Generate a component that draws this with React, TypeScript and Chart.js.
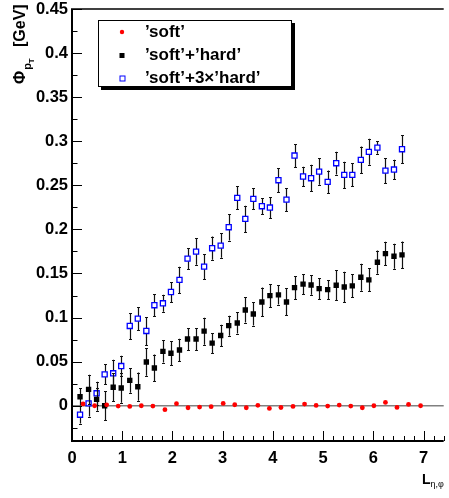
import { useEffect, useRef } from "react";
import { Chart, registerables } from "chart.js";

Chart.register(...registerables);

const FONT = '"Liberation Sans", Arial, Helvetica, sans-serif';

// ---- data ----
const softX = [0.22, 0.45, 0.69, 0.92, 1.15, 1.38, 1.61, 1.85, 2.08, 2.31, 2.54, 2.77, 3.01, 3.24, 3.47, 3.70, 3.93, 4.16, 4.40, 4.63, 4.86, 5.09, 5.32, 5.55, 5.78, 6.01, 6.24, 6.47, 6.70, 6.94];
const softY = [0.002, 0.0, 0.001, -0.0004, -0.0008, 0.0, -0.0004, -0.0045, 0.0023, -0.0023, -0.0015, -0.0011, 0.0026, 0.0011, -0.0023, 0.0005, -0.003, -0.002, -0.0008, 0.0019, 0.0004, -0.0004, 0.0008, -0.0004, -0.0023, 0.0, 0.0038, -0.0019, 0.0015, 0.0];

const hardX = [0.16, 0.33, 0.49, 0.65, 0.82, 0.98, 1.15, 1.31, 1.48, 1.64, 1.81, 1.97, 2.14, 2.30, 2.47, 2.63, 2.79, 2.96, 3.12, 3.29, 3.45, 3.61, 3.78, 3.94, 4.11, 4.27, 4.43, 4.60, 4.76, 4.92, 5.09, 5.26, 5.42, 5.58, 5.75, 5.91, 6.08, 6.24, 6.41, 6.57];
const softHardY = [0.0102, 0.0186, 0.0072, 0.0, 0.0209, 0.0201, 0.0288, 0.0216, 0.0496, 0.0428, 0.0617, 0.0595, 0.0632, 0.0757, 0.0757, 0.0846, 0.071, 0.0797, 0.0908, 0.0939, 0.1086, 0.1041, 0.1177, 0.1249, 0.1257, 0.1177, 0.134, 0.138, 0.137, 0.1328, 0.1317, 0.1366, 0.1347, 0.1359, 0.1457, 0.1427, 0.1628, 0.1725, 0.1696, 0.1711];
const softHardErr = [0.01, 0.0165, 0.013, 0.0163, 0.016, 0.0166, 0.014, 0.016, 0.0155, 0.0153, 0.0127, 0.0136, 0.0127, 0.0125, 0.0125, 0.0153, 0.0112, 0.0121, 0.0113, 0.0121, 0.0142, 0.0132, 0.0163, 0.013, 0.011, 0.0153, 0.013, 0.0112, 0.011, 0.0121, 0.011, 0.017, 0.0174, 0.013, 0.0153, 0.013, 0.0132, 0.0134, 0.0142, 0.0151];
const soft3HardY = [-0.0102, 0.0027, 0.0141, 0.0356, 0.0368, 0.045, 0.0905, 0.0988, 0.0848, 0.114, 0.1162, 0.129, 0.1427, 0.1669, 0.1748, 0.1578, 0.1787, 0.1816, 0.2025, 0.2358, 0.2119, 0.2346, 0.2263, 0.2248, 0.2558, 0.2338, 0.2838, 0.26, 0.2581, 0.2656, 0.2539, 0.2751, 0.2619, 0.2619, 0.2789, 0.288, 0.2928, 0.2667, 0.2679, 0.291];
const soft3HardErr = [0.01, 0.015, 0.013, 0.0115, 0.0155, 0.0117, 0.0148, 0.013, 0.0159, 0.0127, 0.0096, 0.0113, 0.0149, 0.0119, 0.0149, 0.014, 0.0132, 0.0138, 0.0151, 0.013, 0.0149, 0.0119, 0.0093, 0.0119, 0.0134, 0.0129, 0.0129, 0.011, 0.0151, 0.0149, 0.0129, 0.0129, 0.0149, 0.0132, 0.0151, 0.0148, 0.007, 0.0142, 0.0112, 0.016];

const xTickValues = [0, 1, 2, 3, 4, 5, 6, 7];
const xTickLabels = ["0", "1", "2", "3", "4", "5", "6", "7"];
const yTickValues = [0, 0.05, 0.1, 0.15, 0.2, 0.25, 0.3, 0.35, 0.4, 0.45];
const yTickLabels = ["0", "0.05", "0.1", "0.15", "0.2", "0.25", "0.3", "0.35", "0.4", "0.45"];
const legendLabels = ["\u2019soft\u2019", "\u2019soft\u2019+\u2019hard\u2019", "\u2019soft\u2019+3\u00d7\u2019hard\u2019"];

const X_MIN = 0;
const X_MAX = 7.4;
const Y_MIN = -0.04;
const Y_MAX = 0.45;

const errorBarPlugin = {
  id: "errorBars",
  beforeDatasetDraw(chart: any, args: any) {
    const ds = chart.data.datasets[args.index];
    if (!ds.errors) return;
    const { ctx, scales, chartArea } = chart;
    const xs = scales.x;
    const ys = scales.y;
    ctx.save();
    ctx.beginPath();
    ctx.rect(chartArea.left, chartArea.top, chartArea.right - chartArea.left, chartArea.bottom - chartArea.top);
    ctx.clip();
    ctx.strokeStyle = "#111";
    ctx.lineWidth = 1.2;
    ds.data.forEach((p: any, i: number) => {
      const e = ds.errors[i];
      const px = Math.round(xs.getPixelForValue(p.x)) + 0.5;
      const yt = ys.getPixelForValue(p.y + e);
      const yb = ys.getPixelForValue(p.y - e);
      ctx.beginPath();
      ctx.moveTo(px, yt);
      ctx.lineTo(px, yb);
      ctx.moveTo(px - 1.5, Math.round(yt) + 0.5);
      ctx.lineTo(px + 1.5, Math.round(yt) + 0.5);
      ctx.moveTo(px - 1.5, Math.round(yb) + 0.5);
      ctx.lineTo(px + 1.5, Math.round(yb) + 0.5);
      ctx.stroke();
    });
    ctx.restore();
  },
};

const framePlugin = {
  id: "frame",
  beforeDatasetsDraw(chart: any) {
    const { ctx, chartArea, scales } = chart;
    const y0 = scales.y.getPixelForValue(0);
    ctx.save();
    ctx.strokeStyle = "#808080";
    ctx.lineWidth = 1.5;
    ctx.beginPath();
    ctx.moveTo(chartArea.left, y0);
    ctx.lineTo(chartArea.right, y0);
    ctx.stroke();
    ctx.restore();
  },
  afterDraw(chart: any) {
    const { ctx, chartArea, scales } = chart;
    const { left, top, right, bottom } = chartArea;
    const xs = scales.x;
    const ys = scales.y;
    ctx.save();
    ctx.strokeStyle = "#000";
    ctx.lineWidth = 1;
    ctx.beginPath();
    for (let k = -2; k <= 18; k++) {
      const v = k * 0.025;
      if (v < Y_MIN - 1e-9 || v > Y_MAX + 1e-9) continue;
      const py = Math.round(ys.getPixelForValue(v)) + 0.5;
      const len = k % 2 === 0 ? 10 : 5.5;
      ctx.moveTo(left, py);
      ctx.lineTo(left + len, py);
    }
    for (let k = 0; k <= 40; k++) {
      const v = k * 0.2;
      if (v > X_MAX + 1e-9) continue;
      const px = Math.round(xs.getPixelForValue(v)) + 0.5;
      const len = k % 5 === 0 ? 10 : 5;
      ctx.moveTo(px, bottom);
      ctx.lineTo(px, bottom - len);
    }
    ctx.stroke();
    ctx.lineWidth = 2;
    ctx.beginPath();
    ctx.moveTo(left, top);
    ctx.lineTo(left, bottom);
    ctx.moveTo(left - 1, bottom);
    ctx.lineTo(right, bottom);
    ctx.stroke();
    ctx.lineWidth = 1.5;
    ctx.beginPath();
    ctx.moveTo(left - 1, top);
    ctx.lineTo(right, top);
    ctx.stroke();
    ctx.restore();
  },
};

const legendPlugin = {
  id: "rootLegend",
  afterDraw(chart: any) {
    const { ctx } = chart;
    const bx = 98, by = 20, bw = 194, bh = 67;
    ctx.save();
    ctx.fillStyle = "#000";
    ctx.fillRect(bx + 3, by + 3, bw, bh);
    ctx.fillStyle = "#fff";
    ctx.fillRect(bx, by, bw, bh);
    ctx.strokeStyle = "#000";
    ctx.lineWidth = 1;
    ctx.strokeRect(bx + 0.5, by + 0.5, bw - 1, bh - 1);
    const rows = [32, 55.5, 78];
    const mx = 122;
    ctx.fillStyle = "#ff0000";
    ctx.beginPath();
    ctx.arc(mx, rows[0], 2.2, 0, Math.PI * 2);
    ctx.fill();
    ctx.fillStyle = "#000";
    ctx.fillRect(mx - 2.5, rows[1] - 2.5, 5, 5);
    ctx.strokeStyle = "#0000ff";
    ctx.lineWidth = 1;
    ctx.strokeRect(mx - 2, rows[2] - 2, 5, 5);
    ctx.fillStyle = "#000";
    ctx.font = `bold 17px ${FONT}`;
    ctx.textAlign = "left";
    ctx.textBaseline = "middle";
    legendLabels.forEach((t, i) => ctx.fillText(t, 145, rows[i]));
    ctx.restore();
  },
};

const titlePlugin = {
  id: "axisTitles",
  afterDraw(chart: any) {
    const { ctx } = chart;
    ctx.save();
    ctx.fillStyle = "#000";
    ctx.textAlign = "left";
    ctx.textBaseline = "alphabetic";
    ctx.translate(25, 84);
    ctx.rotate(-Math.PI / 2);
    ctx.font = `bold 16px ${FONT}`;
    ctx.fillText("\u03a6", 0, 0);
    let cx = ctx.measureText("\u03a6").width + 1;
    ctx.font = `bold 11px ${FONT}`;
    ctx.fillText("p", cx, 5.5);
    cx += ctx.measureText("p").width;
    ctx.font = `bold 8px ${FONT}`;
    ctx.fillText("T", cx, 8.5);
    ctx.font = `bold 16px ${FONT}`;
    ctx.fillText("[GeV]", 37, 0);
    ctx.restore();

    ctx.save();
    ctx.fillStyle = "#000";
    ctx.textAlign = "left";
    ctx.textBaseline = "alphabetic";
    ctx.font = `bold 14px ${FONT}`;
    ctx.fillText("L", 422, 483.5);
    const lw = ctx.measureText("L").width;
    ctx.font = `9px ${FONT}`;
    ctx.fillText("\u03b7,\u03c6", 422 + lw, 487);
    ctx.restore();
  },
};

export default function App() {
  const canvasRef = useRef<HTMLCanvasElement | null>(null);

  useEffect(() => {
    const canvas = canvasRef.current;
    if (!canvas) return;
    const tickFont = { family: FONT, size: 16.5, weight: "bold" as const };
    const chart = new Chart(canvas, {
      type: "scatter",
      data: {
        datasets: [
          {
            label: legendLabels[0],
            data: softX.map((x, i) => ({ x, y: softY[i] })),
            pointStyle: "circle",
            pointRadius: 2.4,
            backgroundColor: "#ff0000",
            borderColor: "#ff0000",
            borderWidth: 0,
          },
          {
            label: legendLabels[1],
            data: hardX.map((x, i) => ({ x, y: softHardY[i] })),
            errors: softHardErr,
            pointStyle: "rect",
            pointRadius: 3.8,
            backgroundColor: "#000",
            borderColor: "#000",
            borderWidth: 0,
          } as any,
          {
            label: legendLabels[2],
            data: hardX.map((x, i) => ({ x, y: soft3HardY[i] })),
            errors: soft3HardErr,
            pointStyle: "rect",
            pointRadius: 3.6,
            backgroundColor: "#fff",
            borderColor: "#0000ff",
            borderWidth: 1.3,
          } as any,
        ],
      },
      options: {
        animation: false,
        responsive: false,
        events: [],
        layout: { padding: { top: 9, right: 0, bottom: 0, left: 0 } },
        plugins: { legend: { display: false }, tooltip: { enabled: false } },
        scales: {
          x: {
            type: "linear",
            min: X_MIN,
            max: X_MAX,
            grid: { display: false, drawTicks: false },
            border: { display: false },
            ticks: {
              font: tickFont,
              color: "#000",
              padding: 8,
              maxRotation: 0,
              autoSkip: false,
              includeBounds: false,
              callback: (_v: any, i: number) => xTickLabels[i],
            },
            afterBuildTicks: (s: any) => {
              s.ticks = xTickValues.map((v) => ({ value: v }));
            },
            afterFit: (s: any) => {
              s.height = 57;
              s.paddingLeft = 0;
              s.paddingRight = 0;
            },
          },
          y: {
            type: "linear",
            min: Y_MIN,
            max: Y_MAX,
            grid: { display: false, drawTicks: false },
            border: { display: false },
            ticks: {
              font: tickFont,
              color: "#000",
              padding: 4,
              autoSkip: false,
              includeBounds: false,
              callback: (_v: any, i: number) => yTickLabels[i],
            },
            afterBuildTicks: (s: any) => {
              s.ticks = yTickValues.map((v) => ({ value: v }));
            },
            afterFit: (s: any) => {
              s.width = 72;
              s.paddingTop = 0;
              s.paddingBottom = 0;
            },
          },
        },
      },
      plugins: [errorBarPlugin, framePlugin, legendPlugin, titlePlugin],
    });
    return () => chart.destroy();
  }, []);

  return (
    <div style={{ position: "fixed", left: 0, top: 0, width: 449, height: 498, background: "#fff" }}>
      <canvas ref={canvasRef} width={449} height={498} style={{ display: "block", width: 449, height: 498 }} />
    </div>
  );
}
